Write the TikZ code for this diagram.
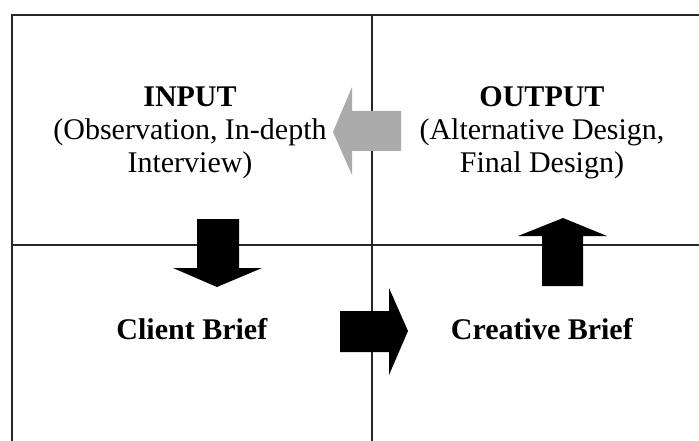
\documentclass[tikz,border=0pt]{standalone}
\usepackage{fontspec}
\setmainfont{Liberation Serif}
\tikzset{
  gridline/.style={line width=2.2pt,draw=black!85},
  label/.style={align=center,anchor=base,inner sep=0pt,font=\fontsize{30}{33}\selectfont},
  blockarrow/.style={fill=black,draw=none},
}
\begin{document}
\begin{tikzpicture}[x=1pt,y=-1pt]
                    \useasboundingbox (0,0) rectangle (699,441);
                    % grid of the four fields
                    \draw[gridline] (12,441)--(12,15)--(699,15);
                    \draw[gridline] (372,15)--(372,441);
                    \draw[gridline] (12,245)--(699,245);
                    % texts (base = last line)
                    \node[label] (input) at (190,172) {\textbf{INPUT}\\(Observation, In-depth\\Interview)};
                    \node[label] (output) at (542,172) {\textbf{OUTPUT}\\(Alternative Design,\\Final Design)};
                    \node[label] (client) at (192,339) {\textbf{Client Brief}};
                    \node[label] (creative) at (542,339) {\textbf{Creative Brief}};
                    % block arrows
                    \fill[black!33] (401,111)--(352,111)--(352,87)--(333,132)--(352,175)--(352,151)--(401,151)--cycle;
                    \fill[blockarrow] (197,219)--(239,219)--(239,268)--(262,268)--(217,287)--(173,268)--(197,268)--cycle;
                    \fill[blockarrow] (340,311)--(389,311)--(389,288)--(408,331)--(389,375)--(389,352)--(340,352)--cycle;
                    \fill[blockarrow] (542,286)--(583,286)--(583,236)--(607,236)--(563,218)--(518,236)--(542,236)--cycle;
                \end{tikzpicture}
\end{document}
